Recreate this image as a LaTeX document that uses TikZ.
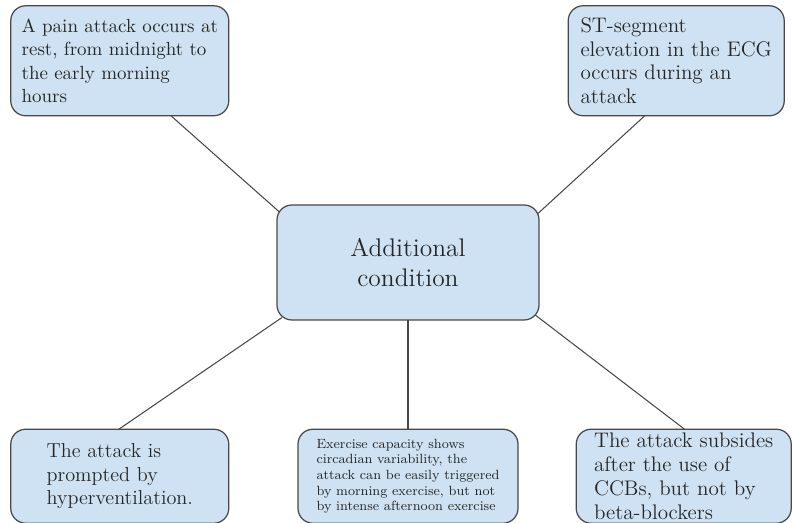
\documentclass[tikz,border=0pt]{standalone}
\usepackage{tikz}
\usetikzlibrary{positioning,backgrounds}
\definecolor{cellfill}{RGB}{207,226,243}
\definecolor{celldraw}{RGB}{72,72,72}

\begin{document}
\begin{tikzpicture}[
  cell/.style={rectangle, rounded corners=8.5pt, draw=celldraw, fill=cellfill, line width=0.7pt,
               align=left, inner xsep=0.1cm, inner ysep=2pt, text=black!85},
  hub/.style={cell, minimum width=5.24cm, minimum height=2.3cm, align=center,
              font=\fontsize{14.5}{17}\selectfont},
  leaf/.style={cell, minimum height=2.2cm, font=\fontsize{11.5}{13.4}\selectfont},
  foot/.style={cell, minimum height=1.88cm, font=\fontsize{11.5}{13.4}\selectfont},
  link/.style={draw=celldraw, line width=0.6pt, shorten >=-3pt, shorten <=-3pt},
]
\useasboundingbox (0,0) rectangle (15.84,10.46);

\node[hub] (cond) at (8.16,5.21) {Additional\\condition};

\node[leaf, minimum width=4.36cm, above left=1.76cm and 0.94cm of cond,
      font=\fontsize{10.8}{13.4}\selectfont] (rest)
  {A pain attack occurs at\\rest, from midnight to\\the early morning\\hours};
\node[leaf, minimum width=4.32cm, above right=1.76cm and 0.56cm of cond,
      font=\fontsize{12}{13.4}\selectfont] (ecg)
  {ST-segment\\elevation in the ECG\\occurs during an\\attack};

\node[foot, minimum width=4.36cm, below left=2.16cm and 0.94cm of cond] (hyper)
  {The attack is\\prompted by\\hyperventilation.};
\node[foot, minimum width=4.4cm, below=2.16cm of cond,
      font=\fontsize{7.6}{8.9}\selectfont] (exer)
  {Exercise capacity shows\\circadian variability, the\\attack can be easily triggered\\by morning exercise, but not\\by intense afternoon exercise};
\node[foot, minimum width=4.3cm, inner ysep=0pt, below right=2.16cm and 0.72cm of cond,
      font=\fontsize{12}{13.8}\selectfont] (ccb)
  {The attack subsides\\after the use of\\CCBs, but not by\\beta-blockers};

% spokes
\begin{scope}[on background layer]
  \draw[link] (rest.-47)   -- (cond.158);
  \draw[link] (ecg.240)    -- (cond.21);
  \draw[link] (hyper.north) -- (cond.204);
  \draw[link] (exer.north) -- (cond.south);
  \draw[link] (ccb.north)  -- (cond.-23);
\end{scope}

\end{tikzpicture}
\end{document}
